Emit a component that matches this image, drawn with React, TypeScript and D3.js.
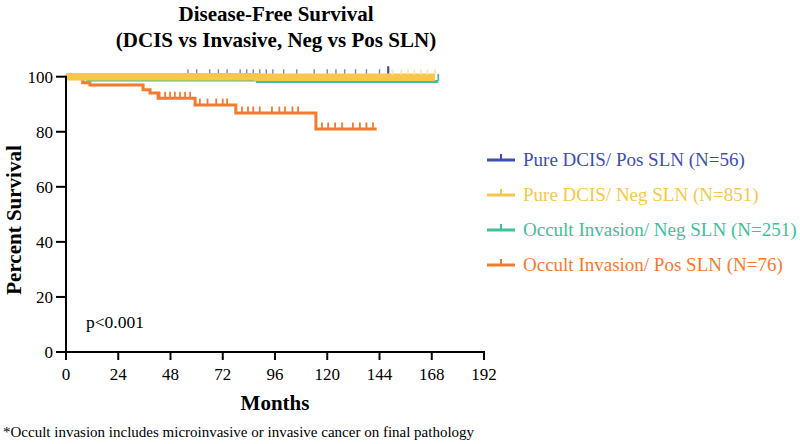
import React from "react";
import * as d3 from "d3";

const xTicks = [0, 24, 48, 72, 96, 120, 144, 168, 192];
const yTicks = [0, 20, 40, 60, 80, 100];

const seriesNames = [
  "Pure DCIS/ Pos SLN (N=56)",
  "Pure DCIS/ Neg SLN (N=851)",
  "Occult Invasion/ Neg SLN (N=251)",
  "Occult Invasion/ Pos SLN (N=76)",
];
const seriesColors = ["#3e4fb0", "#f8c64a", "#3cc19a", "#f57a2e"];

// Step-function event times (months) and survival (%)
const blueTimes = [0, 148];
const blueSurv = [100, 100];
const yellowTimes = [0, 88, 169.5];
const yellowSurv = [100, 99.8, 99.8];
const tealTimes = [0, 10, 88, 171];
const tealSurv = [100, 98.8, 98.3, 98.3];
const orangeTimes = [0, 7.7, 11, 35.4, 38.6, 42.3, 59.3, 78, 114.8, 142.7];
const orangeSurv = [100, 97.8, 97.0, 95.3, 94.1, 92.2, 89.7, 86.8, 81, 81];

// Censor marks (months)
const blueCensor = [56, 60, 66, 70, 74, 80, 83, 86, 89, 92, 95, 100, 106, 114, 120, 124, 128, 133, 138, 144, 148];
const yellowCensor = [150, 154, 157, 160, 163, 166, 169.5];
const tealCensor = [171];
const orangeCensor = [43, 45.5, 47.8, 50, 52.4, 54.7, 57, 61.5, 65, 69, 72, 74, 80.8, 83.6, 86, 89, 94.6, 98, 100.6, 104, 106.6, 117.6, 120.4, 123.6, 126.8, 131.8, 135, 138, 141];

const FONT = "'Liberation Serif', 'Times New Roman', serif";

function survAt(times: number[], surv: number[], t: number) {
  let v = surv[0];
  for (let i = 0; i < times.length; i++) if (times[i] <= t) v = surv[i];
  return v;
}

export default function App() {
  const x = d3.scaleLinear().domain([0, 192]).range([66, 484]);
  const y = d3.scaleLinear().domain([0, 100]).range([352, 76.7]);
  const line = d3
    .line<[number, number]>()
    .x((d) => x(d[0]))
    .y((d) => y(d[1]))
    .curve(d3.curveStepAfter);

  const series = [
    { times: blueTimes, surv: blueSurv, censor: blueCensor },
    { times: yellowTimes, surv: yellowSurv, censor: yellowCensor },
    { times: tealTimes, surv: tealSurv, censor: tealCensor },
    { times: orangeTimes, surv: orangeSurv, censor: orangeCensor },
  ];
  const drawOrder = [3, 2, 0, 1];
  const widths = [3, 7.5, 3, 3];
  const tickH = [6, 4, 6, 5];

  return (
    <svg width={800} height={444} style={{ position: "absolute", left: 0, top: 0, background: "#fff" }}>
      <g fontFamily={FONT} fontWeight="bold" fontSize={21} textAnchor="middle">
        <text x={276} y={21}>Disease-Free Survival</text>
        <text x={276} y={47}>(DCIS vs Invasive, Neg vs Pos SLN)</text>
      </g>

      {drawOrder.map((i) => {
        const s = series[i];
        const pts: [number, number][] = s.times.map((t, k) => [t, s.surv[k]]);
        return (
          <g key={i} stroke={seriesColors[i]} fill="none">
            <path d={line(pts) || ""} strokeWidth={widths[i]} />
            {s.censor.map((c, k) => {
              const v = survAt(s.times, s.surv, c);
              const base = y(v) - widths[i] / 2;
              const last = i === 0 && k === s.censor.length - 1;
              return (
                <line
                  key={k}
                  x1={x(c)}
                  x2={x(c)}
                  y1={base + 1}
                  y2={base - (last ? 9 : tickH[i])}
                  strokeWidth={i === 0 ? (last ? 2.2 : 1.4) : 1.8}
                  stroke={i === 1 ? "#fbe6a8" : seriesColors[i]}
                  strokeOpacity={i === 0 && !last ? 0.7 : 1}
                />
              );
            })}
          </g>
        );
      })}

      {/* axes */}
      <g stroke="#000" strokeWidth={2}>
        <line x1={66} x2={66} y1={y(100) - 1} y2={353} />
        <line x1={65} x2={x(192) + 1} y1={352} y2={352} />
        {yTicks.map((t) => (
          <line key={t} x1={56} x2={66} y1={y(t)} y2={y(t)} />
        ))}
        {xTicks.map((t) => (
          <line key={t} x1={x(t)} x2={x(t)} y1={352} y2={360} />
        ))}
      </g>
      <g fontFamily={FONT} fontSize={17}>
        {yTicks.map((t) => (
          <text key={t} x={53} y={y(t) + 6} textAnchor="end">{t}</text>
        ))}
        {xTicks.map((t) => (
          <text key={t} x={x(t)} y={380} textAnchor="middle">{t}</text>
        ))}
      </g>
      <text x={275} y={410} fontFamily={FONT} fontWeight="bold" fontSize={21} textAnchor="middle">Months</text>
      <text transform="translate(21,220) rotate(-90)" fontFamily={FONT} fontWeight="bold" fontSize={21} textAnchor="middle">Percent Survival</text>
      <text x={86} y={328} fontFamily={FONT} fontSize={17.5}>p&lt;0.001</text>

      {/* legend */}
      {seriesNames.map((n, i) => {
        const ly = 160 + i * 35;
        return (
          <g key={n}>
            <line x1={487} x2={515} y1={ly} y2={ly} stroke={seriesColors[i]} strokeWidth={3} />
            <line x1={501} x2={501} y1={ly} y2={ly - 6} stroke={seriesColors[i]} strokeWidth={2} />
            <text x={523} y={ly + 6} fontFamily={FONT} fontSize={19} fill={seriesColors[i]}>{n}</text>
          </g>
        );
      })}

      <text x={3} y={437} fontFamily={FONT} fontSize={15}>*Occult invasion includes microinvasive or invasive cancer on final pathology</text>
    </svg>
  );
}
